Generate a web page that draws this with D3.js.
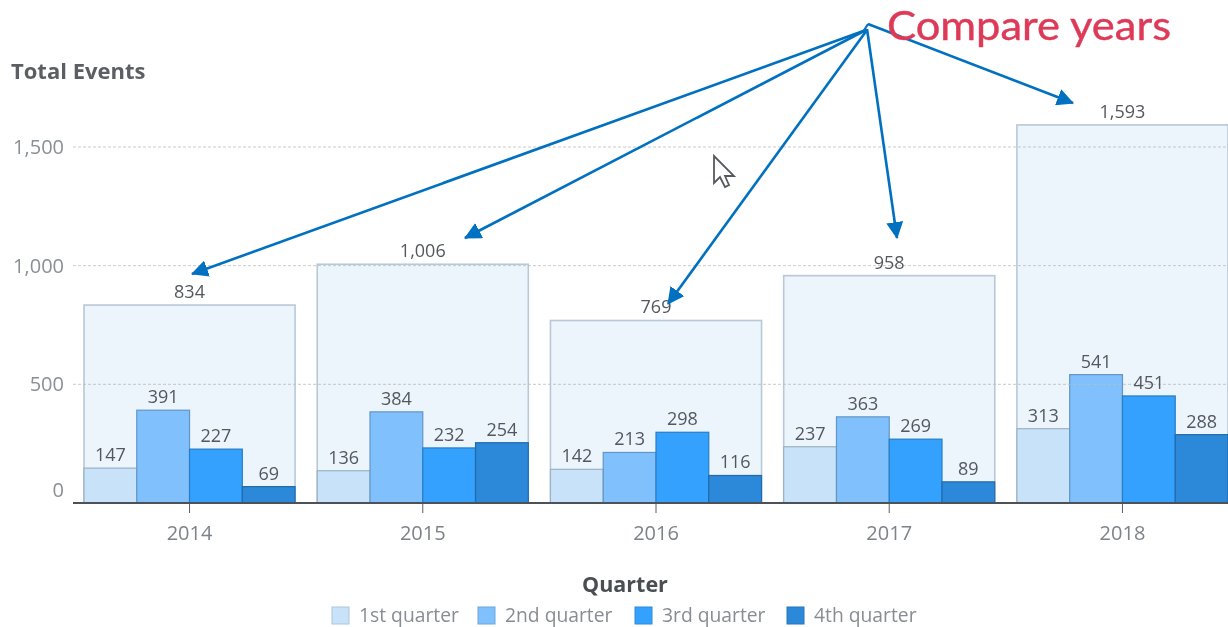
<!DOCTYPE html>
<html>
<head>
<meta charset="utf-8">
<script src="https://cdn.jsdelivr.net/npm/d3@7.9.0/dist/d3.min.js"></script>
<style>
  html, body { margin: 0; background: #fff; }
  svg { display: block; font-family: "Open Sans", sans-serif; }
  .blurred { filter: blur(0.6px); }
</style>
</head>
<body>
<svg id="chart" width="1228" height="627"></svg>
<script>
// data
const years = ['2014', '2015', '2016', '2017', '2018'];
const quarters = ['1st quarter', '2nd quarter', '3rd quarter', '4th quarter'];
const totals = [834, 1006, 769, 958, 1593];
const q1 = [147, 136, 142, 237, 313];
const q2 = [391, 384, 213, 363, 541];
const q3 = [227, 232, 298, 269, 451];
const q4 = [69, 254, 116, 89, 288];
const yTicks = [0, 500, 1000, 1500];
const quarterColors = ['#c8e3f9', '#7fc0fd', '#33a1fd', '#2c88d9'];
const quarterValues = [q1, q2, q3, q4];

const svg = d3.select('#chart');
const chart = svg.append('g').attr('class', 'blurred');
const fmt = d3.format(',');

const x = d3.scaleBand().domain(years).range([84, 1228]).paddingInner(0.095).paddingOuter(0);
const xQuarter = d3.scaleBand().domain(quarters).range([0, x.bandwidth()]);
const y = d3.scaleLinear().domain([0, 1500]).range([503, 147]);

// year total boxes
chart.append('g').selectAll('rect')
  .data(years)
  .join('rect')
  .attr('x', d => x(d))
  .attr('y', (d, i) => y(totals[i]))
  .attr('width', x.bandwidth())
  .attr('height', (d, i) => y(0) - y(totals[i]))
  .attr('fill', '#d5e6f8')
  .attr('fill-opacity', 0.45)
  .attr('stroke', '#b9c8d6')
  .attr('stroke-width', 1.6);

// quarter bars
quarters.forEach((q, qi) => {
  chart.append('g').selectAll('rect')
    .data(years)
    .join('rect')
    .attr('x', d => x(d) + xQuarter(q))
    .attr('y', (d, i) => y(quarterValues[qi][i]))
    .attr('width', xQuarter.bandwidth())
    .attr('height', (d, i) => y(0) - y(quarterValues[qi][i]))
    .attr('fill', quarterColors[qi])
    .attr('stroke', d3.color(quarterColors[qi]).darker(0.7))
    .attr('stroke-width', 1.2);
});

// gridlines show through the boxes but stay behind the labels
chart.append('g').selectAll('line')
  .data(yTicks.filter(d => d > 0))
  .join('line')
  .attr('x1', 73).attr('x2', 1228)
  .attr('y1', d => y(d)).attr('y2', d => y(d))
  .attr('stroke', '#bdbdbd')
  .attr('stroke-opacity', 0.8)
  .attr('stroke-dasharray', '3 2');

// labels
chart.append('g').selectAll('text')
  .data(years)
  .join('text')
  .attr('x', d => x(d) + x.bandwidth() / 2)
  .attr('y', (d, i) => y(totals[i]) - 7)
  .attr('text-anchor', 'middle')
  .attr('font-size', 18)
  .attr('fill', '#54585e')
  .text((d, i) => fmt(totals[i]));

quarters.forEach((q, qi) => {
  chart.append('g').selectAll('text')
    .data(years)
    .join('text')
    .attr('x', d => x(d) + xQuarter(q) + xQuarter.bandwidth() / 2)
    .attr('y', (d, i) => y(quarterValues[qi][i]) - 7)
    .attr('text-anchor', 'middle')
    .attr('font-size', 18)
    .attr('fill', '#54585e')
    .text((d, i) => quarterValues[qi][i]);
});

// axes
const yAxis = chart.append('g')
  .attr('transform', 'translate(64,0)')
  .call(d3.axisLeft(y).tickValues(yTicks).tickSize(0).tickPadding(0).tickFormat(fmt));
yAxis.select('.domain').remove();
yAxis.selectAll('text')
  .attr('font-size', 20)
  .attr('font-family', '"Open Sans", sans-serif')
  .attr('fill', '#8a9097')
  .attr('dy', d => d === 0 ? '-0.35em' : '0.32em');

const xAxis = chart.append('g')
  .attr('transform', `translate(0,${y(0)})`)
  .call(d3.axisBottom(x).tickSize(10).tickPadding(13));
xAxis.select('.domain').remove();
xAxis.selectAll('line').attr('stroke', '#5a5f66');
xAxis.selectAll('text')
  .attr('font-size', 20)
  .attr('font-family', '"Open Sans", sans-serif')
  .attr('fill', '#7d838a');
chart.append('line')
  .attr('x1', 73).attr('x2', 1228)
  .attr('y1', y(0)).attr('y2', y(0))
  .attr('stroke', '#4d5258')
  .attr('stroke-width', 1.8);

// titles
chart.append('text')
  .attr('x', 11).attr('y', 79)
  .attr('font-size', 22).attr('font-weight', 700)
  .attr('fill', '#5b5f64')
  .text('Total Events');
chart.append('text')
  .attr('x', 625).attr('y', 592)
  .attr('text-anchor', 'middle')
  .attr('font-size', 21.5).attr('font-weight', 700)
  .attr('fill', '#4a4e53')
  .text('Quarter');

// legend
const legendX = d3.scaleOrdinal().domain(quarters).range([332, 478, 635, 787]);
const legend = chart.append('g').selectAll('g')
  .data(quarters)
  .join('g')
  .attr('transform', d => `translate(${legendX(d)},607)`);
legend.append('rect')
  .attr('width', 17).attr('height', 17)
  .attr('fill', (d, i) => quarterColors[i])
  .attr('stroke', (d, i) => d3.color(quarterColors[i]).darker(0.4));
legend.append('text')
  .attr('x', 27).attr('y', 15)
  .attr('font-size', 19.3)
  .attr('fill', '#878d94')
  .text(d => d);

// annotation drawn over the chart
const annotation = svg.append('g');
const arrowColor = '#0070c0';
const arrowStarts = [[866, 30], [866, 30], [867, 30], [867, 29], [868, 24]];
const arrowEnds = [[192, 274], [465, 238], [668, 304], [897, 238], [1073, 103]];
svg.append('defs').append('marker')
  .attr('id', 'head')
  .attr('viewBox', '0 0 16 16')
  .attr('refX', 15).attr('refY', 8)
  .attr('markerUnits', 'userSpaceOnUse')
  .attr('markerWidth', 17).attr('markerHeight', 17)
  .attr('orient', 'auto')
  .append('path')
  .attr('d', 'M0,0L16,8L0,16Z')
  .attr('fill', arrowColor);
annotation.selectAll('line.arrow')
  .data(arrowEnds)
  .join('line')
  .attr('class', 'arrow')
  .attr('x1', (d, i) => arrowStarts[i][0])
  .attr('y1', (d, i) => arrowStarts[i][1])
  .attr('x2', d => d[0])
  .attr('y2', d => d[1])
  .attr('stroke', arrowColor)
  .attr('stroke-width', 2.6)
  .attr('marker-end', 'url(#head)');
// short stub joining the 2018 arrow to the others at the apex
annotation.append('line')
  .attr('x1', 868).attr('y1', 24)
  .attr('x2', 863).attr('y2', 32)
  .attr('stroke', arrowColor)
  .attr('stroke-width', 2.2);
annotation.append('text')
  .attr('x', 887).attr('y', 40)
  .attr('font-size', 40)
  .attr('font-family', 'Lato, sans-serif')
  .attr('fill', '#de3a57')
  .attr('stroke', '#de3a57')
  .attr('stroke-width', 0.4)
  .attr('textLength', 284)
  .attr('lengthAdjust', 'spacingAndGlyphs')
  .text('Compare years');

// mouse cursor from the screenshot
annotation.append('path')
  .attr('transform', 'translate(714,156)')
  .attr('d', 'M0,0L0,27L6,21L11,31L15,29L11,20L20,20Z')
  .attr('fill', '#fff')
  .attr('stroke', '#55595e')
  .attr('stroke-width', 1.8)
  .attr('filter', 'blur(0.5px)');
</script>
</body>
</html>
